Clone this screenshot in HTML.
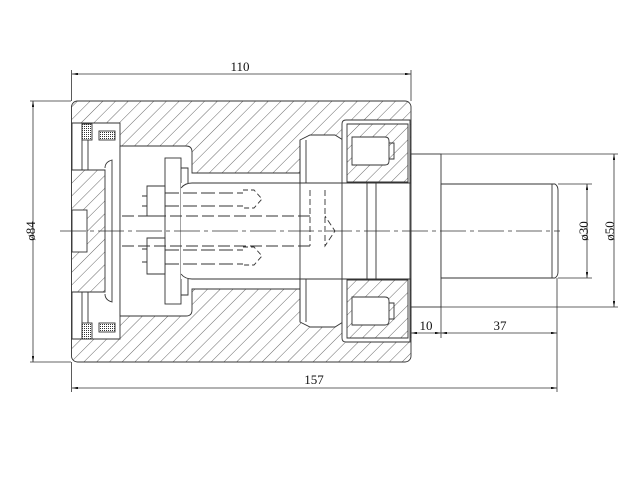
<!DOCTYPE html>
<html><head><style>
html,body{margin:0;padding:0;background:#fff;}
svg{display:block;}
text{font-family:"Liberation Serif",serif;font-size:13px;fill:#111;}
</style></head><body>
<svg width="640" height="480" viewBox="0 0 640 480" xmlns="http://www.w3.org/2000/svg">
<defs>
<pattern id="h" width="9" height="9" patternUnits="userSpaceOnUse" patternTransform="rotate(45)">
<line x1="0" y1="0" x2="0" y2="9" stroke="#444" stroke-width="0.8"/>
</pattern>
<pattern id="dots" width="2" height="2" patternUnits="userSpaceOnUse">
<rect width="2" height="2" fill="#fff"/><rect width="1" height="1" fill="#333"/>
</pattern>
<marker id="a" viewBox="0 0 10 4" refX="10" refY="2" markerWidth="8" markerHeight="3" orient="auto-start-reverse"><path d="M0,0L10,2L0,4z" fill="#111"/></marker>
</defs>
<g stroke="#333" stroke-width="0.9" fill="none">
<!-- body -->
<rect x="71.5" y="101" width="339.5" height="261" rx="6" fill="url(#h)"/>
<!-- left cover -->
<path d="M72,123H120V339H72V292H105V170H72Z" fill="#fff"/>
<rect x="72" y="210" width="15" height="42" fill="#fff"/>
<path d="M82,123V170M88,123V170M82,292V339M88,292V339"/>
<rect x="82" y="124" width="10" height="16" fill="url(#dots)"/>
<rect x="99" y="131" width="16" height="9" fill="url(#dots)"/>
<rect x="82" y="323" width="10" height="16" fill="url(#dots)"/>
<rect x="99" y="323" width="16" height="9" fill="url(#dots)"/>
<path d="M105,168Q105,162 112,160V302Q105,300 105,294" />
<!-- cavity -->
<path d="M120,146H186Q192,146 192,152V173H300V289H192V310Q192,316 186,316H120Z" fill="#fff"/>
<!-- flange -->
<rect x="165" y="158" width="16" height="146" fill="#fff"/>
<path d="M181,168H188V295H181"/>
<!-- shaft -->
<rect x="181" y="183" width="230" height="96" fill="#fff" stroke="none"/>
<path d="M181,188Q185,183 192,183H300M181,274Q185,279 192,279H300"/>
<!-- bearing -->
<path d="M300,140L310,135H335L343,140V322L335,327H310L300,322Z" fill="#fff"/>
<path d="M300,140V183M300,279V322M306,140V183M306,279V322"/>
<path d="M342,124Q342,120 346,120H410V342H346Q342,342 342,338Z" fill="#fff"/>
<path d="M347,124H408V182H347Z" fill="url(#h)"/>
<path d="M347,280H408V338H347Z" fill="url(#h)"/>
<path d="M352,137H385Q389,137 389,141V161Q389,165 385,165H352Z" fill="#fff"/>
<path d="M352,297H385Q389,297 389,301V321Q389,325 385,325H352Z" fill="#fff"/>
<path d="M389,143H394V159H389M389,303H394V319H389"/>
<path d="M367,183V279M376,183V279M367,183H376M367,279H376"/>
<path d="M300,183H411M300,279H411"/>
<!-- bolts -->
<path d="M147,186H165V216H147ZM147,238H165V274H147Z" fill="#fff"/>
<path d="M142,196H147M142,206H147M142,249H147M142,262H147"/>
<path d="M165,193H243M165,206H243M165,250H243M165,264H243" stroke-dasharray="14,4"/>
<path d="M243,190H254L262,199L254,208H243M243,247H254L262,256L254,265H243" stroke-dasharray="5,3"/>
<path d="M122,216H310M122,246H310" stroke-dasharray="12,4"/>
<path d="M310,190V246M325,190V246L335,231L325,216" stroke-dasharray="6,3"/>
<!-- stud -->
<rect x="411" y="154" width="30" height="153" fill="#fff"/>
<path d="M441,184H555Q558,186 558,190V272Q558,276 555,278H441Z" fill="#fff"/>
<path d="M552,184V278"/>
</g>
<!-- centerline -->
<path d="M60,231H560" stroke="#333" stroke-width="0.8" stroke-dasharray="26,4,4,4"/>
<!-- dims -->
<g stroke="#333" stroke-width="0.8" fill="none">
<path d="M71.5,70V101M411,70V101"/>
<path d="M72,74H411" marker-start="url(#a)" marker-end="url(#a)"/>
<path d="M30,101H71M30,362H71"/>
<path d="M33,101V362" marker-start="url(#a)" marker-end="url(#a)"/>
<path d="M441,154H618M441,307H618M558,184H592M558,278H592"/>
<path d="M614,154V307" marker-start="url(#a)" marker-end="url(#a)"/>
<path d="M587,184V278" marker-start="url(#a)" marker-end="url(#a)"/>
<path d="M71.5,362V392M411,307V338M441,307V338M557,278V392"/>
<path d="M411,333H441" marker-start="url(#a)" marker-end="url(#a)"/>
<path d="M441,333H557" marker-start="url(#a)" marker-end="url(#a)"/>
<path d="M72,388H557" marker-start="url(#a)" marker-end="url(#a)"/>
</g>
<text x="240" y="71" text-anchor="middle">110</text>
<text x="426" y="330" text-anchor="middle">10</text>
<text x="500" y="330" text-anchor="middle">37</text>
<text x="314" y="384" text-anchor="middle">157</text>
<text transform="translate(35,231) rotate(-90)" text-anchor="middle">ø84</text>
<text transform="translate(588,231) rotate(-90)" text-anchor="middle">ø30</text>
<text transform="translate(614,231) rotate(-90)" text-anchor="middle">ø50</text>
</svg>
</body></html>
